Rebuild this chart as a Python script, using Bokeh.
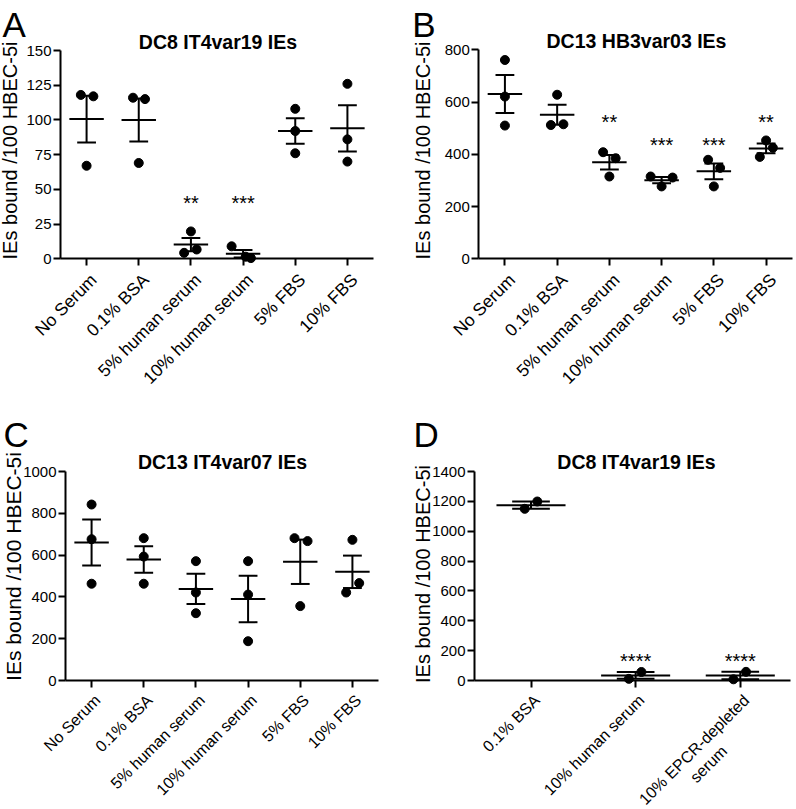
import numpy as np
from math import pi, sqrt
from bokeh.plotting import figure
from bokeh.models import Label, Range1d, FixedTicker, LinearAxis
from bokeh.layouts import row, column
from bokeh.core.properties import value
from bokeh.embed import file_html
from bokeh.resources import INLINE

FONT = "Liberation Sans"

# ---------------- data ----------------
cats_six = ["No Serum", "0.1% BSA", "5% human serum", "10% human serum", "5% FBS", "10% FBS"]
cats_d = ["0.1% BSA", "10% human serum", "10% EPCR-depleted\nserum"]

a_title = "DC8 IT4var19 IEs"
a_values = [[118, 117, 67], [116, 115, 69], [19.7, 4.3, 6.7], [9, 1.5, 0.5], [108, 92, 76], [126, 86, 70]]
a_jitter = [[-0.11, 0.13, 0], [-0.11, 0.12, 0], [0, -0.13, 0.11], [-0.22, 0.05, 0.15], [0, 0, 0], [0, 0, 0]]
a_sig = ["", "", "**", "***", "", ""]
a_sig_y = [0, 0, 40, 40, 0, 0]
a_yticks = [0, 25, 50, 75, 100, 125, 150]

b_title = "DC13 HB3var03 IEs"
b_values = [[761, 621, 510], [628, 512, 515], [408, 385, 315], [315, 311, 277], [379, 348, 277], [453, 425, 390]]
b_jitter = [[0, 0, 0], [0, -0.12, 0.12], [-0.12, 0.12, 0], [-0.21, 0.21, 0], [-0.11, 0.12, 0], [0, 0.13, -0.12]]
b_sig = ["", "", "**", "***", "***", "**"]
b_sig_y = [0, 0, 523, 436, 436, 523]
b_yticks = [0, 200, 400, 600, 800]

c_title = "DC13 IT4var07 IEs"
c_values = [[842, 676, 463], [681, 593, 463], [571, 421, 322], [571, 411, 188], [681, 667, 356], [673, 466, 421]]
c_jitter = [[0, 0, 0], [0, 0, 0], [0, 0, 0], [0, 0, 0], [-0.11, 0.14, 0], [0, 0.13, -0.12]]
c_sig = ["", "", "", "", "", ""]
c_sig_y = [0, 0, 0, 0, 0, 0]
c_yticks = [0, 200, 400, 600, 800, 1000]

d_title = "DC8 IT4var19 IEs"
d_values = [[1150, 1199], [11, 57], [8, 58]]
d_jitter = [[-0.06, 0.06], [-0.065, 0.055], [-0.065, 0.055]]
d_sig = ["", "****", "****"]
d_sig_y = [0, 133, 133]
d_yticks = [0, 200, 400, 600, 800, 1000, 1200, 1400]

Y_LABEL = "IEs bound /100 HBEC-5i"

# approximate advance widths (em) of the sans font, used to centre two-line tick labels
CHAR_W = {"0": .556, "1": .556, "%": .889, " ": .278, "E": .667, "P": .667, "C": .722, "R": .722,
          "-": .333, "d": .556, "e": .556, "p": .556, "l": .222, "t": .278, "s": .5, "r": .333,
          "u": .556, "m": .833}


def text_width(s, fs):
    return sum(CHAR_W.get(ch, .556) for ch in s) * fs


def make_panel(letter, title, cats, vals, jit, sig, sig_y, yticks, xr, size, area, lab):
    W, H = size
    ax0, ax1, ay0, ay1 = area          # plot-area box in figure pixels (left, right, top, bottom)
    yr = (yticks[0], yticks[-1])
    sx = (ax1 - ax0) / (xr[1] - xr[0])
    sy = (ay1 - ay0) / (yr[1] - yr[0])
    x_start = xr[0] - ax0 / sx
    x_end = xr[1] + (W - ax1) / sx
    y_end = yr[1] + ay0 / sy
    y_start = yr[0] - (H - ay1) / sy

    def dx(px):
        return x_start + px / sx

    def dy(py):
        return y_end - py / sy

    p = figure(width=W, height=H, x_range=Range1d(x_start, x_end), y_range=Range1d(y_start, y_end),
               min_border_left=0, min_border_top=0, min_border_right=0, min_border_bottom=0,
               x_axis_location=None, y_axis_location=None,
               output_backend="svg", toolbar_location=None, tools="")
    p.grid.visible = False
    p.outline_line_color = None
    p.background_fill_color = "white"
    p.border_fill_color = "white"

    n = len(cats)
    idx = np.arange(n, dtype=float)
    means = np.array([np.mean(g) for g in vals])
    sems = np.array([np.std(g, ddof=1) / np.sqrt(len(g)) for g in vals])
    hi = means + sems
    lo = means - sems

    kw = dict(line_color="black", line_width=2, line_cap="butt")
    p.segment(x0=idx, y0=lo, x1=idx, y1=hi, **kw)
    p.segment(x0=idx - 0.18, y0=hi, x1=idx + 0.18, y1=hi, **kw)
    p.segment(x0=idx - 0.18, y0=lo, x1=idx + 0.18, y1=lo, **kw)
    p.segment(x0=idx - 0.33, y0=means, x1=idx + 0.33, y1=means, **kw)

    xs = [i + j for i, g in enumerate(vals) for j in jit[i][:len(g)]]
    ys = [v for g in vals for v in g]
    p.scatter(x=xs, y=ys, size=9, marker="circle", fill_color="black", line_color="black")

    sx_ = [i for i in range(n) if sig[i]]
    if sx_:
        p.text(x=sx_, y=[sig_y[i] for i in sx_], text=[sig[i] for i in sx_],
               text_font=value(FONT), text_font_size=value("20px"), text_color="black",
               text_align="center", text_baseline="alphabetic")

    # axes (library axes, pinned to the plot-area box)
    xax = LinearAxis(fixed_location=yr[0], bounds=xr, ticker=FixedTicker(ticks=list(range(n))),
                     major_label_overrides={i: "" for i in range(n)})
    yax = LinearAxis(fixed_location=xr[0], bounds=yr, ticker=FixedTicker(ticks=yticks))
    for ax in (xax, yax):
        ax.axis_line_width = 2
        ax.axis_line_color = "black"
        ax.major_tick_line_width = 2
        ax.major_tick_line_color = "black"
        ax.major_tick_out = 7
        ax.major_tick_in = 0
        ax.minor_tick_line_color = None
    yax.major_label_text_font = FONT
    yax.major_label_text_font_size = "15px"
    yax.major_label_text_color = "black"
    yax.major_label_standoff = 2
    p.add_layout(xax, "below")
    p.add_layout(yax, "left")

    # category labels, rotated 45 degrees, ending under their tick
    fs = lab["tick_fs"]
    for i, c in enumerate(cats):
        if "\n" in c:
            half = text_width(c.split("\n")[0], fs) / 2 / sqrt(2)
            p.add_layout(Label(x=i - half / sx, y=dy(ay1 + 11 + half), text=c, angle=pi / 4,
                               text_align="center", text_baseline="top", text_font=FONT,
                               text_font_size=f"{fs}px", text_color="black"))
        else:
            p.add_layout(Label(x=i, y=dy(ay1 + 11), text=c, angle=pi / 4,
                               text_align="right", text_baseline="top", text_font=FONT,
                               text_font_size=f"{fs}px", text_color="black"))
    # y label
    p.add_layout(Label(x=dx(lab["ylab_x"]), y=dy(lab["ylab_y"]), text=Y_LABEL,
                       angle=pi / 2, text_align="center", text_baseline="top", text_font=FONT,
                       text_font_size=lab["ylab_size"], text_color="black"))
    # title
    p.add_layout(Label(x=dx(lab["title_x"]), y=dy(lab["title_y"]), text=title, text_align="center",
                       text_baseline="alphabetic", text_font=FONT, text_font_size="19.5px",
                       text_font_style="bold", text_color="black"))
    # panel letter
    p.add_layout(Label(x=dx(lab["let_x"]), y=dy(lab["let_y"]), text=letter, text_align="left",
                       text_baseline="alphabetic", text_font=FONT, text_font_size="35px",
                       text_color="black"))
    return p


pA = make_panel("A", a_title, cats_six, a_values, a_jitter, a_sig, a_sig_y, a_yticks, (-0.5, 5.5),
                (400, 400), (60, 373, 50, 258.3),
                dict(ylab_x=-2, ylab_y=150, ylab_size="20px", title_x=217.5, title_y=41.5,
                     let_x=2, let_y=23.5, tick_fs=17.5))
pB = make_panel("B", b_title, cats_six, b_values, b_jitter, b_sig, b_sig_y, b_yticks, (-0.5, 5.5),
                (396, 400), (78.3, 391.7, 49.3, 258.3),
                dict(ylab_x=11, ylab_y=150, ylab_size="20px", title_x=236, title_y=40.2,
                     let_x=11.7, let_y=23.5, tick_fs=17.5))
pC = make_panel("C", c_title, cats_six, c_values, c_jitter, c_sig, c_sig_y, c_yticks, (-0.5, 5.5),
                (400, 409), (65, 378, 71, 280),
                dict(ylab_x=1, ylab_y=166, ylab_size="21px", title_x=222, title_y=61.8,
                     let_x=3, let_y=33.5, tick_fs=16))
pD = make_panel("D", d_title, cats_d, d_values, d_jitter, d_sig, d_sig_y, d_yticks, (-0.54, 2.48),
                (396, 409), (74, 390, 71, 280),
                dict(ylab_x=11, ylab_y=173.5, ylab_size="20px", title_x=236, title_y=61.8,
                     let_x=13, let_y=33.5, tick_fs=16))

layout = column(row(pA, pB, spacing=0), row(pC, pD, spacing=0), spacing=0)

with open("out.html", "w") as f:
    f.write(file_html(layout, INLINE))
